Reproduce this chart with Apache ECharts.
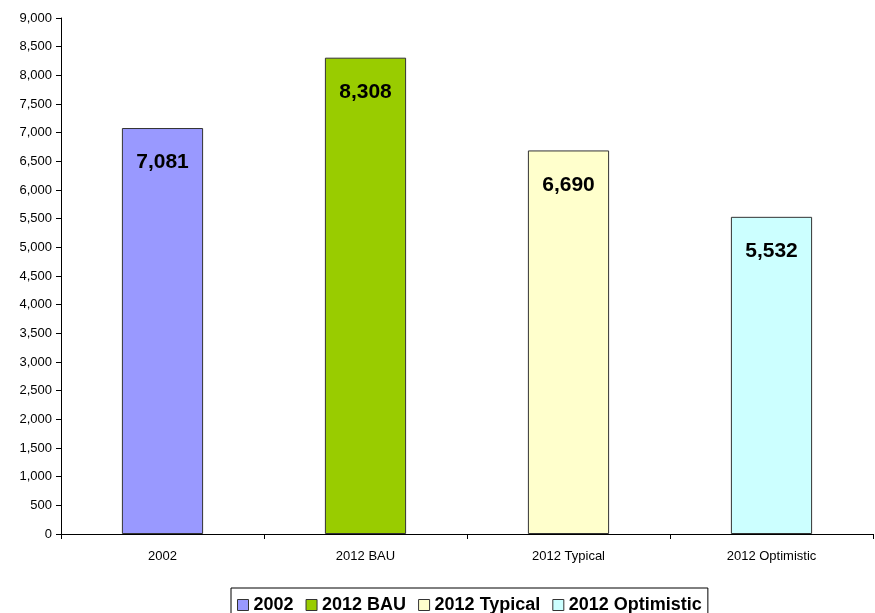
<!DOCTYPE html>
<html>
<head>
<meta charset="utf-8">
<script src="https://cdn.jsdelivr.net/npm/echarts@6/dist/echarts.min.js"></script>
<style>
  html, body { margin: 0; padding: 0; background: #fff; }
  #chart { width: 875px; height: 613px; }
</style>
</head>
<body>
<div id="chart"></div>
<script>
// Categories and values
const categories = ['2002', '2012 BAU', '2012 Typical', '2012 Optimistic'];
const seriesNames = ['2002', '2012 BAU', '2012 Typical', '2012 Optimistic'];
const values = [7081, 8308, 6690, 5532];
const colors = ['#9999FF', '#99CC00', '#FFFFCC', '#CCFFFF'];

const fmt = v => Number(v).toLocaleString('en-US');
const FONT = 'Liberation Sans, Arial, sans-serif';

// One series per category so each gets its own legend entry
const series = seriesNames.map((name, i) => ({
  name: name,
  type: 'bar',
  stack: 'all',
  barWidth: '40%',
  data: categories.map((c, j) => (j === i ? values[i] : null)),
  itemStyle: { color: colors[i], borderColor: '#333', borderWidth: 1 },
  label: {
    show: true,
    position: 'insideTop',
    distance: 24,
    formatter: p => fmt(p.value),
    fontFamily: FONT,
    fontWeight: 'bold',
    fontSize: 21,
    color: '#000'
  }
}));

const chart = echarts.init(document.getElementById('chart'));
chart.setOption({
  animation: false,
  backgroundColor: '#fff',
  grid: { left: 61, right: 2, top: 18, bottom: 79, containLabel: false },
  legend: {
    top: 588,
    left: 231,
    itemWidth: 11,
    itemHeight: 11,
    itemGap: 12,
    icon: 'rect',
    borderColor: '#000',
    borderWidth: 1,
    padding: [8, 6, 8, 6],
    textStyle: { fontFamily: FONT, fontWeight: 'bold', fontSize: 18, color: '#000' },
    itemStyle: { borderColor: '#333', borderWidth: 1 },
    data: seriesNames
  },
  xAxis: {
    type: 'category',
    data: categories,
    axisLine: { lineStyle: { color: '#000', width: 1 } },
    axisTick: { show: true, alignWithLabel: false, length: 5, lineStyle: { color: '#000' } },
    axisLabel: { fontFamily: FONT, fontSize: 13, color: '#000', margin: 16 }
  },
  yAxis: {
    type: 'value',
    min: 0,
    max: 9000,
    interval: 500,
    axisLine: { show: true, lineStyle: { color: '#000', width: 1 } },
    axisTick: { show: true, length: 5, lineStyle: { color: '#000' } },
    splitLine: { show: false },
    axisLabel: { fontFamily: FONT, fontSize: 13, color: '#000', margin: 9, formatter: v => fmt(v) }
  },
  series: series
});
</script>
</body>
</html>
